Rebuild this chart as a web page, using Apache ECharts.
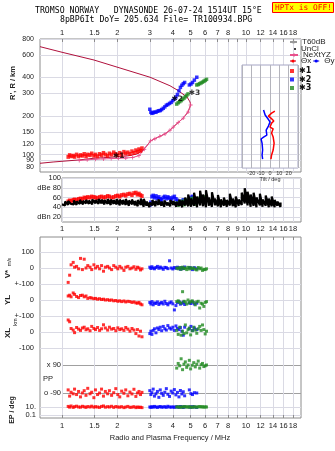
<!DOCTYPE html>
<html>
<head>
<meta charset="utf-8">
<script src="https://cdn.jsdelivr.net/npm/echarts@6/dist/echarts.min.js"></script>
<style>
html, body { margin: 0; padding: 0; background: #fff; }
#chart { width: 335px; height: 451px; }
</style>
</head>
<body>
<div id="chart"></div>
<script>
/* tick values */
var freqTicks = [1, 1.5, 2, 3, 4, 5, 6, 7, 8, 9, 10, 12, 14, 16, 18];
var freqLabelsOuter = [1, 1.5, 2, 3, 4, 5, 6, 7, 8, 10, 12, 14, 16, 18];
var heightTicks = [80, 90, 100, 120, 150, 200, 300, 400, 600, 800];
var heightLabelsA = [80, 100, 120, 150, 200, 300, 400, 600, 800];
var heightLabelsB = [90];
var dbTicks = [20, 40, 60, 80, 100];
var tiltTicks = [-30, -20, -10, 0, 10, 20, 30];

/* model virtual height trace (MHz, km) */
var modelF = [0.759, 0.894, 1.237, 1.492, 2.0, 2.312, 2.55, 2.75, 2.9, 3.03, 3.2, 3.4, 3.63, 3.86, 4.02, 4.28, 4.56, 4.84, 5.0, 4.96, 4.78, 4.22, 3.86, 3.01, 1.492, 1.0, 0.759];
var modelH = [85.5, 87.5, 90.8, 93.6, 96, 98, 101, 108, 118, 128, 133, 139, 145, 155, 164, 178, 193, 215, 244, 258, 282, 320, 345, 402, 548, 630, 697];

/* NeXtYZ real height profile */
var pinkF = [1.24, 1.37, 1.52, 1.68, 1.85, 2.03, 2.22, 2.42, 2.62, 2.8, 3.03, 3.2, 3.4, 3.63, 3.86, 4.02, 4.28, 4.56, 4.84, 5.0];
var pinkH = [90, 91, 92, 92.5, 93, 93.5, 94, 95, 98, 110, 128, 133, 139, 145, 155, 164, 178, 193, 215, 244];

/* *1 echoes */
var redF = [1.08, 1.10, 1.12, 1.15, 1.17, 1.20, 1.23, 1.26, 1.29, 1.32, 1.35, 1.38, 1.42, 1.45, 1.49, 1.52, 1.56, 1.60, 1.64, 1.68, 1.72, 1.77, 1.81, 1.86, 1.91, 1.96, 2.01, 2.06, 2.11, 2.17, 2.22, 2.28, 2.34, 2.40, 2.46, 2.52, 2.57, 2.62, 2.67, 2.72];
var redH = [96, 99, 97, 98, 96, 100, 97, 99, 98, 101, 97, 100, 99, 102, 98, 100, 97, 101, 99, 103, 100, 98, 102, 100, 104, 101, 99, 103, 100, 105, 102, 104, 101, 106, 103, 108, 105, 110, 107, 112];
var redDb = [52, 54, 53, 55, 56, 55, 57, 58, 57, 60, 59, 61, 60, 62, 61, 60, 59, 61, 62, 60, 61, 63, 62, 60, 61, 63, 64, 62, 65, 66, 64, 67, 68, 65, 69, 70, 66, 68, 65, 63];
var redV = [-90, -45, 20, 35, 5, 10, -5, 60, -10, 55, 0, 15, 5, -10, 20, 0, 10, -5, 15, -20, 5, 10, 0, -10, 15, 5, -5, 10, 0, -15, 5, 10, -5, 0, 8, -8, 5, 0, -12, -5];
var redYL = [25, 30, 20, 44, 35, 22, 15, 28, 30, 20, 25, 10, 15, 12, 8, 10, 5, 8, 3, 5, 0, 2, -2, 0, -5, -3, -8, -5, -10, -6, -12, -8, -10, -15, -12, -18, -20, -15, -25, -30];
var redXL = [75, 64, 22, 12, -4, 28, 18, 10, 25, 30, 14, 20, 8, 35, 22, 15, 28, 10, 20, 45, 25, 12, 30, 18, 22, 8, 26, 15, 20, 10, 28, 18, 5, 22, 12, -10, 15, -25, 5, -30];
var redPP = [-70, -110, -85, -95, -65, -100, -80, -115, -90, -75, -105, -60, -95, -85, -120, -70, -100, -90, -65, -110, -80, -95, -75, -105, -88, -62, -100, -115, -78, -92, -70, -108, -84, -96, -66, -112, -90, -80, -100, -86];
var redEP = [14, 9, 18, 8, 12, 16, 10, 9, 15, 11, 8, 13, 10, 16, 9, 12, 10, 8, 14, 18, 9, 12, 10, 15, 8, 13, 10, 9, 12, 7, 10, 14, 8, 9, 12, 7, 10, 8, 9, 7];

/* *2 echoes */
var blueF = [3.00, 3.04, 3.08, 3.13, 3.18, 3.24, 3.30, 3.36, 3.42, 3.48, 3.55, 3.62, 3.69, 3.76, 3.84, 3.92, 4.00, 4.08, 4.16, 4.24, 4.32, 4.40, 4.48, 4.56, 4.64, 4.92, 5.02, 5.12, 5.24, 5.40];
var blueH = [226, 214, 210, 212, 215, 214, 218, 220, 221, 225, 230, 236, 243, 246, 251, 256, 264, 272, 282, 295, 315, 335, 348, 358, 366, 350, 356, 366, 382, 402];
var blueDb = [45, 50, 62, 64, 60, 63, 58, 61, 57, 55, 60, 62, 58, 61, 59, 56, 60, 62, 57, 54, 50, 48, 52, 55, 50, 56, 60, 62, 58, 55];
var blueV = [5, -3, 8, 0, -5, 3, 10, -2, 6, 0, -8, 4, 2, -4, 45, 0, -6, 3, -2, 5, 0, -8, 3, -4, 6, 2, 0, -10, 2, -5];
var blueYL = [-15, -25, -10, -30, -18, -22, -12, -28, -20, -15, -25, -8, -22, -30, -18, -12, -24, -62, -35, -16, -10, -26, -20, -14, -28, -18, -22, -12, -25, -20];
var blueXL = [-10, 5, -15, 10, 20, -5, 25, 15, 30, 8, 35, 20, 12, 40, 25, 18, 30, 10, 38, 22, 15, 28, 5, -20, 30, 20, 35, 10, 25, 15];
var bluePP = [-75, -100, -88, -65, -110, -95, -80, -118, -70, -92, -105, -85, -62, -98, -112, -78, -90, -68, -102, -86, -115, -74, -96, -82, -108, -70, -94, -100, -88, -90];
var blueEP = [10, 8, 12, 9, 14, 10, 8, 11, 13, 9, 10, 12, 8, 15, 10, 9, 11, 8, 12, 10, 9, 13, 10, 8, 11, 10, 9, 12, 10, 8];

/* *3 echoes */
var greenF = [4.20, 4.28, 4.36, 4.44, 4.52, 4.60, 4.68, 4.76, 4.84, 4.92, 5.00, 5.10, 5.20, 5.30, 5.40, 5.50, 5.60, 5.70, 5.80, 5.90, 6.00, 6.10];
var greenH = [248, 254, 259, 264, 270, 276, 283, 290, 298, null, null, null, null, null, 350, 353, 358, 363, 368, 374, 380, 387];
var greenDb = [48, 45, 50, 47, 52, 46, 55, 50, 53, 48, 56, 58, 50, 47, 52, 55, 58, 60, 57, 61, 59, 55];
var greenV = [0, -5, 3, -8, 5, -3, 0, -10, 4, -6, 2, -4, 0, -8, -12, 3, -5, 0, -15, -8, -10, -5];
var greenYL = [-10, -5, -15, -20, 52, -8, -12, -25, 0, -18, -10, -5, -15, -30, -12, -8, -50, -20, -25, -40, -15, -10];
var greenXL = [10, -15, 30, -20, 5, -10, 44, -5, 15, 25, -18, 8, 30, 12, -8, 20, 35, 10, 44, 15, -12, 5];
var greenPP = [70, 100, 85, 130, 60, 95, 110, 75, 90, 120, 65, 88, 105, 78, 95, 115, 70, 92, 100, 80, 85, 90];
var greenEP = [10, 12, 8, 11, 9, 13, 10, 12, 9, 11, 10, 8, 12, 10, 9, 11, 13, 10, 12, 9, 11, 10];

/* unclassified echo amplitude, low / high per frequency */
var blackF = [1.00, 1.04, 1.08, 1.12, 1.16, 1.20, 1.25, 1.30, 1.35, 1.40, 1.46, 1.52, 1.58, 1.64, 1.70, 1.77, 1.84, 1.91, 1.98, 2.06, 2.14, 2.22, 2.31, 2.40, 2.49, 2.58, 2.68, 2.78, 2.88, 2.99, 3.10, 3.22, 3.34, 3.47, 3.60, 3.74, 3.88, 4.03, 4.18, 4.34, 4.50, 4.67, 4.85, 5.03, 5.22, 5.42, 5.63, 5.84, 6.06, 6.29, 6.53, 6.78, 7.04, 7.30, 7.58, 7.87, 8.17, 8.48, 8.80, 9.13, 9.48, 9.84, 10.2, 10.6, 11.0, 11.4, 11.9, 12.3, 12.8, 13.3, 13.8, 14.3, 14.8, 15.4];
var blackLo = [46, 44, 45, 47, 46, 45, 47, 46, 48, 47, 46, 48, 47, 48, 46, 47, 45, 47, 46, 44, 46, 45, 43, 46, 44, 42, 45, 41, 43, 40, 44, 42, 45, 43, 41, 44, 42, 45, 41, 43, 40, 44, 42, 41, 43, 40, 44, 42, 40, 43, 41, 44, 42, 40, 43, 41, 44, 42, 40, 43, 45, 48, 44, 41, 43, 40, 44, 41, 43, 40, 42, 40, 43, 41];
var blackHi = [50, 52, 53, 51, 54, 52, 55, 53, 55, 54, 56, 55, 57, 56, 55, 57, 56, 55, 57, 56, 55, 57, 54, 56, 53, 55, 58, 57, 52, 50, 55, 53, 56, 52, 54, 50, 55, 53, 51, 56, 54, 60, 66, 58, 70, 62, 74, 66, 75, 60, 71, 58, 65, 56, 60, 55, 68, 58, 62, 56, 70, 79, 72, 66, 70, 60, 68, 56, 64, 58, 62, 55, 52, 50];

/* tilt profiles (deg vs km) */
var tiltXH = [219, 211, 200, 193, 183, 176, 164, 159, 147.5, 137, 123, 108.6, 99.3, 92.3];
var tiltX = [5.2, 1.7, -1.7, 1, 4.1, 1.7, 0, 3.4, 1.7, 3.4, 4.4, 3.4, 1.7, 1];
var tiltYH = [223, 204, 193, 180, 167, 155.5, 142, 137, 132.4, 123, 108.6, 99.3, 92.3];
var tiltY = [-6.9, -5.2, -2.8, 0, -1.7, -4.1, -3.4, -6.9, -9.6, -8.5, -7.9, -8.5, -7.9];

/* trace tags */
var tagF = [1.967, 4.08, 5.07];
var tagH = [97.5, 273, 301];
var tagText = ['✱1', '✱2', '✱3'];

var RED = '#ff0000', BLUE = '#0000ff', GREEN = '#228b22';
var GRIDC = '#dadae4', FRAME = '#8c8c8c';
var FONT = 'Liberation Sans';

var lg = function(v){ return Math.log10(v); };
function pts(xs, ys, fy){
	var out = [];
	for (var i = 0; i < xs.length; i++) {
		if (ys[i] == null) continue;
		out.push([lg(xs[i]), fy ? fy(ys[i]) : ys[i]]);
	}
	return out;
}

var unclLine = [];
for (var i = 0; i < blackF.length; i++) {
	unclLine.push([lg(blackF[i]), blackLo[i]]);
	unclLine.push([lg(blackF[i]), blackHi[i]]);
}

var fMin = lg(0.759), fMax = lg(19.9);
var hMin = lg(73.1), hMax = lg(800);
// inset box covers part of the same height scale
var pxPerDec = 133 / (hMax - hMin);
var insetMax = hMax - (65 - 39) / pxPerDec;
var insetMin = hMax - (168 - 39) / pxPerDec;

function fmtF(v){ return String(Math.round(Math.pow(10, v) * 10) / 10); }
function fmtH(v){ return String(Math.round(Math.pow(10, v))); }

function freqAxis(grid, o){
	o = o || {};
	return {
		type: 'value', gridIndex: grid, show: o.show !== false,
		min: o.min !== undefined ? o.min : fMin, max: fMax,
		position: o.position || 'bottom',
		axisLine: { show: false },
		axisTick: { show: !!o.ticks, inside: true, length: 3, lineStyle: { color: FRAME }, customValues: freqTicks.map(lg) },
		axisLabel: o.labels ? { show: true, customValues: o.labels.map(lg), formatter: fmtF, margin: o.margin || 3, hideOverlap: false, fontFamily: FONT, fontSize: 7.5, color: '#222' } : { show: false },
		splitLine: { show: o.split !== false, lineStyle: { color: GRIDC, width: 1 } }
	};
}

function heightAxis(labels, split){
	return {
		type: 'value', gridIndex: 0, min: hMin, max: hMax, position: 'left',
		axisLine: { show: false },
		axisTick: { show: false, customValues: heightTicks.map(lg) },
		axisLabel: { customValues: labels.map(lg), margin: 6, fontFamily: FONT, fontSize: 7, color: '#222',
			hideOverlap: false, formatter: fmtH },
		splitLine: { show: split, lineStyle: { color: GRIDC } }
	};
}

function ySub(grid, min, max, vals, fmt, o){
	o = o || {};
	return {
		type: 'value', gridIndex: grid, min: min, max: max,
		axisLine: { show: false },
		axisTick: { show: false, customValues: vals },
		axisLabel: { show: true, customValues: vals, formatter: fmt, margin: o.margin || 6, hideOverlap: false, fontFamily: FONT, fontSize: 7.5, color: '#222' },
		splitLine: { show: true, lineStyle: { color: o.lineColor || GRIDC, width: 1 } }
	};
}

function dots(name, x, y, data, size, color){
	return {
		name: name, type: 'scatter', xAxisIndex: x, yAxisIndex: y, data: data,
		symbol: 'rect', symbolSize: size, clip: false, silent: true,
		itemStyle: { color: color }
	};
}

var dbNames = { 100: '100', 80: 'dBe 80', 60: '60', 40: '40', 20: 'dBn 20' };
var legText = { fontFamily: FONT, fontSize: 8, color: '#222', lineHeight: 8 };

var option = {
	animation: false,
	backgroundColor: '#fff',
	title: [
		{ text: 'TROMSO NORWAY   DYNASONDE 26-07-24 1514UT 15°E', left: 35, top: 7, padding: 0,
			textStyle: { fontFamily: 'DejaVu Sans Mono', fontSize: 8.2, fontWeight: 'normal', color: '#000' } },
		{ text: '8pBP6It DoY= 205.634 File= TR100934.BPG', left: 60, top: 16, padding: 0,
			textStyle: { fontFamily: 'DejaVu Sans Mono', fontSize: 8.2, fontWeight: 'normal', color: '#000' } },
		{ text: 'HPTx is OFF!', left: 272, top: 2, padding: [1, 2, 1, 3], backgroundColor: '#ffff00',
			borderColor: '#ff0000', borderWidth: 1,
			textStyle: { fontFamily: 'DejaVu Sans Mono', fontSize: 7.9, fontWeight: 'normal', color: '#ff0000', lineHeight: 9 } }
	],
	legend: [
		{ data: ['T60dB'], left: 289, top: 38, itemWidth: 7, itemHeight: 4, padding: 0, selectedMode: false, textStyle: legText },
		{ data: [{ name: 'UnCl', icon: 'circle' }], left: 294, top: 45, itemWidth: 2, itemHeight: 2, padding: 0, selectedMode: false, textStyle: legText },
		{ data: ['NeXtYZ'], left: 289, top: 51, itemWidth: 8, itemHeight: 5, padding: 0, selectedMode: false, textStyle: legText },
		{ data: [{ name: 'Θx', lineStyle: { color: '#e87080' } }, { name: 'Θy', lineStyle: { color: '#8080e8' } }],
			left: 289, top: 57, itemWidth: 6, itemHeight: 4, itemGap: 1, padding: 0, selectedMode: false, textStyle: legText },
		{ data: ['✱1', '✱2', '✱3'], orient: 'vertical', left: 290, top: 67, itemWidth: 4, itemHeight: 4, itemGap: 0.5,
			padding: 0, selectedMode: false, textStyle: { fontFamily: 'DejaVu Sans', fontSize: 8, fontWeight: 'bold', color: '#111', lineHeight: 8 } }
	],
	grid: [
		{ left: 40, top: 39, width: 261, height: 133, show: true, borderColor: FRAME, borderWidth: 1 },
		{ left: 242, top: 65, width: 56, height: 103, show: true, backgroundColor: '#fff', borderColor: '#a4a4c4', borderWidth: 1, z: 1 },
		{ left: 62, top: 178, width: 239, height: 44, show: true, borderColor: FRAME, borderWidth: 1 },
		{ left: 40, top: 237, width: 261, height: 181, show: true, borderColor: FRAME, borderWidth: 1 },
		{ left: 40, top: 252, width: 261, height: 32 },
		{ left: 40, top: 284, width: 261, height: 32 },
		{ left: 40, top: 316, width: 261, height: 32 },
		{ left: 62, top: 365, width: 239, height: 28 },
		{ left: 40, top: 407, width: 261, height: 8 }
	],
	xAxis: [
		freqAxis(0, { position: 'top', ticks: true, labels: freqLabelsOuter, margin: 2 }),
		{
			type: 'value', gridIndex: 1, min: -30, max: 30, interval: 10, z: 2,
			axisLine: { show: false }, axisTick: { show: false },
			axisLabel: { margin: 2, fontFamily: FONT, fontSize: 5.5, color: '#333',
				formatter: function(v){ return Math.abs(v) === 30 ? '' : String(v); } },
			splitLine: { show: true, lineStyle: { color: '#b4b4bc' } },
			name: 'Tilt / deg', nameLocation: 'middle', nameGap: 8,
			nameTextStyle: { fontFamily: FONT, fontSize: 5.5, color: '#333' }
		},
		freqAxis(2, { min: 0 }),
		freqAxis(3, { ticks: true, labels: freqLabelsOuter, margin: 4 }),
		freqAxis(3, { position: 'top', ticks: true, labels: freqTicks, margin: 4, split: false }),
		freqAxis(4, { show: false }),
		freqAxis(5, { show: false }),
		freqAxis(6, { show: false }),
		freqAxis(7, { show: false, min: 0 }),
		freqAxis(8, { show: false })
	],
	yAxis: [
		heightAxis(heightLabelsA, true),
		{
			type: 'value', gridIndex: 1, min: insetMin, max: insetMax, z: 2,
			axisLine: { show: false },
			axisTick: { show: false, customValues: heightTicks.map(lg) },
			axisLabel: { show: false },
			splitLine: { show: true, lineStyle: { color: GRIDC } }
		},
		ySub(2, 10, 100, dbTicks, function(v){ return dbNames[v]; }, { margin: 1 }),
		{ type: 'value', gridIndex: 3, show: false, min: 0, max: 1 },
		ySub(4, -100, 100, [-100, 0, 100], function(v){ return v === -100 ? '+-100' : String(v); }),
		ySub(5, -100, 100, [-100, 0], function(v){ return v === -100 ? '+-100' : String(v); }),
		ySub(6, -100, 100, [-100, 0], function(v){ return String(v); }),
		ySub(7, -90, 90, [-90, 90], function(v){ return v > 0 ? 'x 90' : 'o -90'; }, { margin: 1, lineColor: '#a0a0a0' }),
		ySub(8, -1, 1, [-1, 1], function(v){ return v > 0 ? '10.' : '0.1'; }, { margin: 4 }),
		heightAxis(heightLabelsB, false)
	],
	graphic: [
		{ type: 'text', x: 13, y: 83, rotation: Math.PI / 2, style: { text: "R', R / km", align: 'center', verticalAlign: 'middle', font: 'bold 7.5px "Liberation Sans"', fill: '#222' } },
		{ type: 'text', x: 8, y: 274, rotation: Math.PI / 2, style: { text: 'V*', align: 'center', verticalAlign: 'middle', font: 'bold 8px "Liberation Sans"', fill: '#222' } },
		{ type: 'text', x: 10, y: 262, rotation: Math.PI / 2, style: { text: 'm/s', align: 'center', verticalAlign: 'middle', font: '5px "Liberation Sans"', fill: '#222' } },
		{ type: 'text', x: 8, y: 300, rotation: Math.PI / 2, style: { text: 'YL', align: 'center', verticalAlign: 'middle', font: 'bold 8px "Liberation Sans"', fill: '#222' } },
		{ type: 'text', x: 15, y: 322, rotation: Math.PI / 2, style: { text: 'km', align: 'center', verticalAlign: 'middle', font: '5.5px "Liberation Sans"', fill: '#222' } },
		{ type: 'text', x: 8, y: 333, rotation: Math.PI / 2, style: { text: 'XL', align: 'center', verticalAlign: 'middle', font: 'bold 8px "Liberation Sans"', fill: '#222' } },
		{ type: 'text', x: 12, y: 410, rotation: Math.PI / 2, style: { text: 'EP / deg', align: 'center', verticalAlign: 'middle', font: 'bold 7px "Liberation Sans"', fill: '#222' } },
		{ type: 'text', x: 43, y: 379, style: { text: 'PP', align: 'left', verticalAlign: 'middle', font: '7.5px "Liberation Sans"', fill: '#222' } },
		{ type: 'text', x: 170, y: 438, style: { text: 'Radio and Plasma Frequency / MHz', align: 'center', verticalAlign: 'middle', font: '7.5px "Liberation Sans"', fill: '#222' } }
	],
	series: [
		{ name: 'T60dB', type: 'line', xAxisIndex: 0, yAxisIndex: 0, data: [], symbol: 'none', lineStyle: { color: '#999', width: 1 }, itemStyle: { color: '#999' } },
		{ name: 'model', type: 'line', xAxisIndex: 0, yAxisIndex: 0, data: pts(modelF, modelH, lg), symbol: 'none', silent: true,
			lineStyle: { color: '#b0103c', width: 1 }, z: 1 },
		{ name: 'NeXtYZ', type: 'line', xAxisIndex: 0, yAxisIndex: 0, data: pts(pinkF, pinkH, lg), silent: true,
			symbol: 'path://M2,0h1v2h2v1h-2v2h-1v-2h-2v-1h2z', symbolSize: 4, showAllSymbol: true,
			lineStyle: { color: '#e8508c', width: 1 }, itemStyle: { color: '#e8508c' }, z: 1 },
		dots('✱1', 0, 0, pts(redF, redH, lg), [3.5, 4], RED),
		dots('✱2', 0, 0, pts(blueF, blueH, lg), 3.5, BLUE),
		dots('✱3', 0, 0, pts(greenF, greenH, lg), 3.5, GREEN),
		{
			name: 'tags', type: 'scatter', xAxisIndex: 0, yAxisIndex: 0, symbolSize: 0, silent: true, z: 5,
			data: tagF.map(function(f, i){ return [lg(f), lg(tagH[i]), tagText[i]]; }),
			label: { show: true, position: 'right', distance: -3, formatter: function(p){ return p.data[2]; },
				fontFamily: 'DejaVu Sans', fontSize: 7.5, fontWeight: 'bold', color: '#000' }
		},
		{ name: 'Θx', type: 'line', xAxisIndex: 1, yAxisIndex: 1, z: 3, symbol: 'none', silent: true,
			data: tiltX.map(function(t, i){ return [t, lg(tiltXH[i])]; }),
			lineStyle: { color: RED, width: 1.5 }, itemStyle: { color: RED } },
		{ name: 'Θy', type: 'line', xAxisIndex: 1, yAxisIndex: 1, z: 3, symbol: 'none', silent: true,
			data: tiltY.map(function(t, i){ return [t, lg(tiltYH[i])]; }),
			lineStyle: { color: BLUE, width: 1.5 }, itemStyle: { color: BLUE } },
		{ name: 'UnCl', type: 'line', xAxisIndex: 2, yAxisIndex: 2, data: unclLine, symbol: 'none', silent: true,
			lineStyle: { color: '#000', width: 2.2 }, itemStyle: { color: '#000' } },
		dots('✱1', 2, 2, pts(redF, redDb), [3.5, 4], RED),
		dots('✱2', 2, 2, pts(blueF, blueDb), [3.5, 4], BLUE),
		dots('✱3', 2, 2, pts(greenF, greenDb), [3.5, 4], GREEN),
		dots('✱1', 5, 4, pts(redF, redV), 3, RED),
		dots('✱2', 5, 4, pts(blueF, blueV), 3, BLUE),
		dots('✱3', 5, 4, pts(greenF, greenV), 3, GREEN),
		dots('✱1', 6, 5, pts(redF, redYL), 3, RED),
		dots('✱2', 6, 5, pts(blueF, blueYL), 3, BLUE),
		dots('✱3', 6, 5, pts(greenF, greenYL), 3, GREEN),
		dots('✱1', 7, 6, pts(redF, redXL), 3, RED),
		dots('✱2', 7, 6, pts(blueF, blueXL), 3, BLUE),
		dots('✱3', 7, 6, pts(greenF, greenXL), 3, GREEN),
		dots('✱1', 8, 7, pts(redF, redPP), 3, RED),
		dots('✱2', 8, 7, pts(blueF, bluePP), 3, BLUE),
		dots('✱3', 8, 7, pts(greenF, greenPP), 3, GREEN),
		dots('✱1', 9, 8, pts(redF, redEP, lg), 3, RED),
		dots('✱2', 9, 8, pts(blueF, blueEP, lg), 3, BLUE),
		dots('✱3', 9, 8, pts(greenF, greenEP, lg), 3, GREEN)
	]
};

var chart = echarts.init(document.getElementById('chart'), null, { renderer: 'canvas' });
chart.setOption(option);
</script>
</body>
</html>
